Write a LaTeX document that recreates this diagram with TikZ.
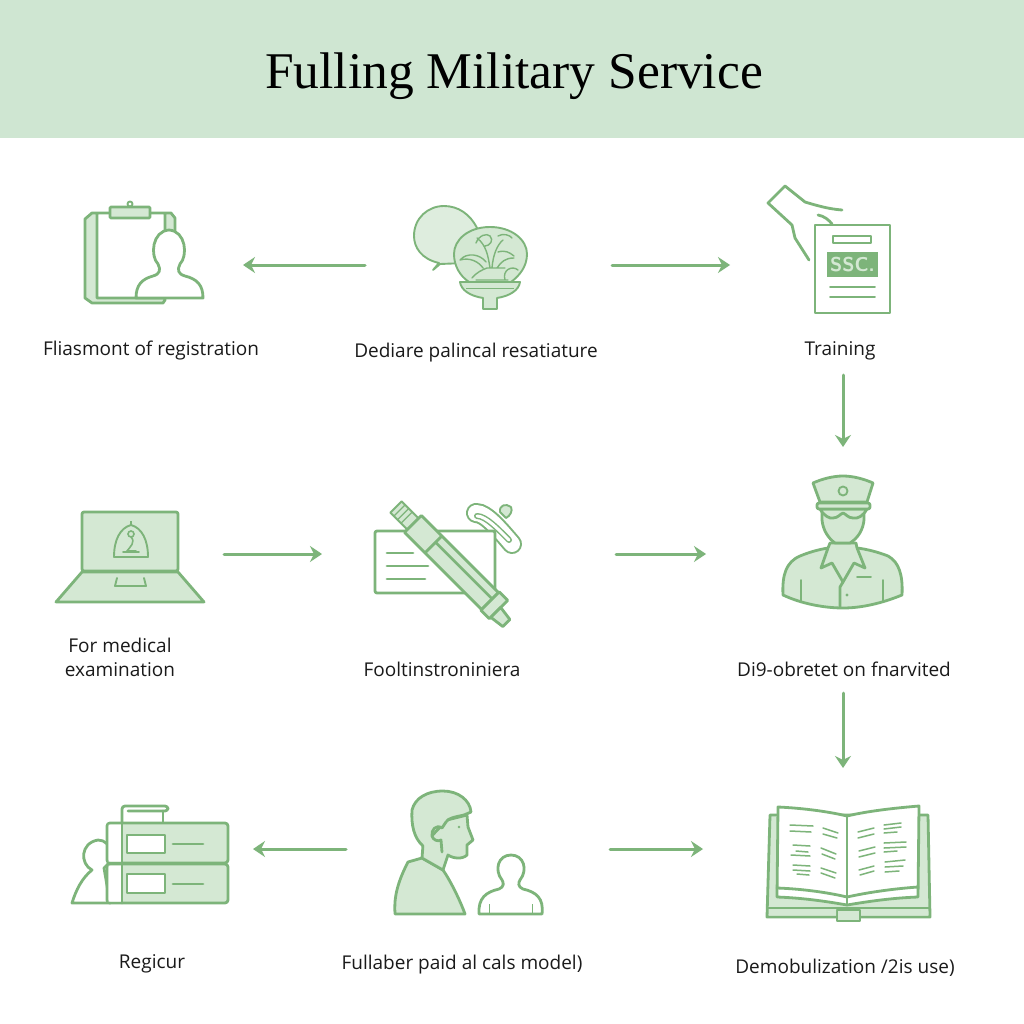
\documentclass[tikz,border=0pt]{standalone}
\usepackage{fontspec}
\setmainfont{Open Sans}
\newfontfamily\titlefont{Liberation Serif}
\usetikzlibrary{arrows.meta}
\definecolor{leaf}{HTML}{7DB47A}
\definecolor{tint}{HTML}{D4E8D3}
\definecolor{band}{HTML}{CFE6D2}
\definecolor{ink}{HTML}{1A1A1A}
\tikzset{
  ic/.style={draw=leaf,line width=2.8pt,line join=round,line cap=round},
  thin ic/.style={draw=leaf,line width=1.9pt,line join=round,line cap=round},
  tinted/.style={fill=tint},
  blank/.style={fill=white},
  slot/.style={inner sep=0pt,outer sep=0pt,rectangle},
  flow/.style={draw=leaf,line width=3pt,line cap=round,-{Stealth[length=12pt,width=16pt,inset=4pt]}},
  caption/.style={inner sep=0pt,outer sep=0pt,text=ink,font=\fontsize{19}{24}\selectfont,align=center},
}
\begin{document}
\begin{tikzpicture}[x=1pt,y=-1pt]
\useasboundingbox (0,0) rectangle (1024,1024);
\fill[white] (0,0) rectangle (1024,1024);
\fill[band] (0,0) rectangle (1024,138);
\node[inner sep=0pt,text=black,font=\titlefont\fontsize{51.5}{60}\selectfont] (title) at (514,76) {Fulling Military Service};

% Reserved areas of the icons; connectors attach to their borders
\node[slot,minimum width=163pt,minimum height=100pt] (clipboard) at (161.5,265) {};
\node[slot,minimum width=247pt,minimum height=100pt] (plant) at (488.5,265) {};
\node[slot,minimum width=170pt,minimum height=100pt] (document) at (815,265) {};
\node[slot,minimum width=188pt,minimum height=100pt] (laptop) at (130,554) {};
\node[slot,minimum width=294pt,minimum height=100pt] (pen) at (469,554) {};
\node[slot,minimum width=274pt,minimum height=214pt] (soldier) at (843,554) {};
\node[slot,minimum width=206pt,minimum height=100pt] (stack) at (150,849) {};
\node[slot,minimum width=264pt,minimum height=100pt] (people) at (478,849) {};
\node[slot,minimum width=280pt,minimum height=162pt] (book) at (843,849) {};

% Captions
\node[caption] (capA) at (151,350.5) {Fliasmont of registration};
\node[caption] (capB) at (476,352.5) {Dediare palincal resatiature};
\node[caption,minimum height=49pt] (capC) at (840,350.5) {Training};
\node[caption] (capD) at (120,657) {For medical\\examination};
\node[caption] (capE) at (442,669.5) {Fooltinstroniniera};
\node[caption,minimum height=47pt] (capF) at (844,669.5) {Di9-obretet on fnarvited};
\node[caption] (capG) at (152,963.5) {Regicur};
\node[caption] (capH) at (462,964.5) {Fullaber paid al cals model)};
\node[caption] (capI) at (845,968) {Demobulization /2is use)};

% Connectors
\draw[flow] (plant.west) -- (clipboard.east);
\draw[flow] (plant.east) -- (document.west);
\draw[flow] (capC.south -| soldier.north) -- (soldier.north);
\draw[flow] (laptop.east) -- (pen.west);
\draw[flow] (pen.east) -- (soldier.west);
\draw[flow] (capF.south -| book.north) -- (book.north);
\draw[flow] (people.west) -- (stack.east);
\draw[flow] (people.east) -- (book.west);

% Clipboard with a person
\draw[ic,tinted] (85,219) -- (92,213) -- (171,213) -- (175,218) -- (175,232) -- (165,232) -- (165,213) -- (97,213) -- (97,298) -- (165,298) -- (165,300) -- (163,303) -- (92,303) -- (85,298) -- cycle;
\draw[thin ic,blank] (130,204) circle (2.5pt);
\draw[ic,tinted,rounded corners=1pt] (110,207) rectangle (150,218);
\draw[ic,blank] (136,298) .. controls (136,285) and (142,279) .. (153,276) .. controls (160,274) and (161,270) .. (158,264) .. controls (150,256) and (152,231) .. (169,230) .. controls (186,231) and (188,256) .. (180,264) .. controls (177,270) and (178,274) .. (185,276) .. controls (197,279) and (203,285) .. (203,298) -- cycle;

% Speech bubble and plant globe on a funnel stand
\draw[thin ic,tinted,fill opacity=.75] (439,263) .. controls (421,259) and (414,247) .. (414,236) .. controls (414,218) and (428,206) .. (444,206) .. controls (458,206) and (470,214) .. (477,228) -- (490,262) -- (440,264) -- (433,270) -- cycle;
\draw[thin ic,tinted] (490,227) .. controls (512,227) and (527,240) .. (527,254) .. controls (527,267) and (519,276) .. (511,282) -- (469,282) .. controls (460,276) and (454,266) .. (454,254) .. controls (454,240) and (468,227) .. (490,227) -- cycle;
\draw[thin ic,tinted] (460,282) -- (520,282) .. controls (519,290) and (510,296) .. (497,298) -- (497,309) -- (483,309) -- (483,298) .. controls (470,296) and (461,290) .. (460,282) -- cycle;
\draw[leaf,line width=1pt] (466,288) -- (514,288);
\draw[leaf,line width=1.4pt,line cap=round] (490,268) .. controls (488,255) and (486,245) .. (477,238)
  (476,243) .. controls (479,235) and (487,233) .. (490,236) .. controls (494,240) and (490,246) .. (485,246)
  (492,268) .. controls (493,255) and (497,245) .. (503,240)
  (498,236) .. controls (503,233) and (510,235) .. (512,238)
  (483,268) .. controls (479,262) and (470,257) .. (460,260)
  (460,260) .. controls (467,252) and (480,254) .. (486,262)
  (497,268) .. controls (501,262) and (505,258) .. (514,258)
  (472,278) .. controls (477,272) and (482,270) .. (487,268) -- (505,268)
  (498,252) .. controls (505,250) and (509,252) .. (514,256)
  (476,280) -- (508,280)
  (505,280) .. controls (502,270) and (512,265) .. (518,270);

% Hand holding a document
\draw[ic] (842,210) .. controls (828,209) and (815,205) .. (805,202) -- (785,186) -- (768,203) -- (792,225) -- (795,238) -- (809,260);
\draw[ic] (818,215) .. controls (824,216) and (829,220) .. (832,224);
\draw[ic,blank] (815,225) rectangle (890,313);
\draw[thin ic] (833,236) rectangle (871,243);
\fill[leaf] (827,252) rectangle (878,277);
\node[inner sep=0pt,text=tint,font=\sffamily\bfseries\fontsize{20}{20}\selectfont] (sscmark) at (852.5,265) {SSC.};
\draw[thin ic] (830,287) -- (875,287) (830,297) -- (875,297);

% Laptop with a bell on screen
\draw[ic,tinted,rounded corners=2pt] (82,571) -- (82,512) -- (178,512) -- (178,571) -- cycle;
\draw[ic,tinted] (82,572) -- (178,572) -- (204,602) -- (56,602) -- cycle;
\draw[thin ic] (117,578) -- (115,586) -- (146,586) -- (144,578);
\draw[thin ic] (114,557) .. controls (114,540) and (120,528) .. (131,525) .. controls (142,528) and (148,540) .. (148,557) -- cycle;
\draw[leaf,line width=1.2pt] (131,525) -- (131,521);
\draw[leaf,line width=1.6pt,line cap=round] (131,534) circle (3pt) (131,537) .. controls (136,542) and (130,547) .. (127,551) -- (136,551) (123,552) -- (139,552);

% Loop behind the card, pen across it
\draw[thin ic,tinted] (500,512) .. controls (499,505) and (506,503) .. (511,507) .. controls (513,511) and (510,516) .. (506,518) -- cycle;
\draw[leaf,line width=20pt,line cap=round] (476,513) .. controls (486,513) and (500,530) .. (512,544);
\draw[white,line width=16pt,line cap=round] (476,513) .. controls (486,513) and (500,530) .. (512,544);
\draw[leaf,line width=6pt,line cap=round] (477,516) .. controls (486,516) and (499,530) .. (509,540);
\draw[white,line width=3pt,line cap=round] (477,516) .. controls (486,516) and (499,530) .. (509,540);
\draw[ic,blank,rounded corners=2pt] (375,531) rectangle (495,593);
\draw[ic] (387,553) -- (413,553) (387,566) -- (428,566) (387,579) -- (425,579);
\begin{scope}[shift={(396,507)},rotate=-45]
  \draw[thin ic,tinted] (0,-8) rectangle (24,8);
  \draw[leaf,line width=1.2pt] (5,-8) -- (5,8) (10,-8) -- (10,8) (15,-8) -- (15,8);
  \draw[ic,tinted] (24,-12) -- (133,-12) -- (133,12) -- (24,12) -- cycle;
  \draw[ic] (53,-12) -- (53,12) (53,-3) -- (133,-3);
  \draw[ic,tinted] (133,-13) rectangle (145,13);
  \draw[ic,tinted] (145,-3) -- (160,-1) -- (160,9) -- (145,11) -- cycle;
\end{scope}

% Soldier in a peaked cap
\draw[ic,tinted] (783,595) .. controls (782,575) and (786,562) .. (800,556) .. controls (812,551) and (822,549) .. (828,548) -- (830,543) -- (856,543) -- (857,548) .. controls (866,549) and (878,552) .. (888,556) .. controls (899,562) and (903,575) .. (902,595) .. controls (880,604) and (860,608) .. (843,608) .. controls (825,608) and (802,604) .. (783,595) -- cycle;
\draw[ic,tinted] (822,505) -- (822,520) .. controls (823,530) and (828,538) .. (835,543) -- (850,543) .. controls (858,538) and (863,530) .. (864,520) -- (864,505) -- cycle;
\draw[ic,tinted] (828,548) -- (821,568) -- (832,563) -- (843,582) -- (854,563) -- (865,568) -- (857,548);
\draw[ic] (843,582) -- (840,587) -- (840,607);
\draw[thin ic] (801,580) -- (801,602) (883,580) -- (883,602) (857,577) -- (871,577);
\fill[leaf] (847,595) circle (1.6pt);
\draw[ic,tinted] (820,509) .. controls (824,516) and (830,519) .. (833,518) .. controls (838,518) and (840,514) .. (843,513) .. controls (846,514) and (848,518) .. (853,518) .. controls (858,519) and (863,516) .. (867,509) -- cycle;
\draw[ic,tinted] (813,483) .. controls (822,479) and (833,476) .. (843,476) .. controls (853,476) and (864,479) .. (873,483) -- (867,502) -- (820,502) -- cycle;
\draw[ic,tinted,rounded corners=2pt] (817,503) rectangle (870,509);
\draw[thin ic,tinted] (843,491) circle (4.5pt);

% Person beside a stack of file drawers
\draw[ic,blank] (72,903) .. controls (76,890) and (82,878) .. (92,870) .. controls (80,864) and (80,843) .. (98,840) .. controls (112,840) and (115,860) .. (104,868) -- (110,903) -- cycle;
\draw[ic,tinted,rounded corners=3pt] (107,823) rectangle (228,863);
\draw[ic,tinted,rounded corners=3pt] (107,864) rectangle (228,903);
\fill[white] (108.5,824.5) rectangle (121,861.5) (108.5,865.5) rectangle (121,901.5);
\draw[ic] (122,822) -- (122,903);
\draw[ic,rounded corners=3pt] (122,822) -- (122,806) -- (168,806) -- (168,811) -- (128,811);
\draw[ic] (163,811) -- (163,822);
\draw[thin ic,blank,line width=1.2pt] (127,835) rectangle (165,853) (127,874) rectangle (165,893);
\draw[ic] (173,844) -- (203,844) (173,884) -- (203,884);

% Man in profile and a smaller figure
\draw[ic,tinted] (395,914) .. controls (394,900) and (396,885) .. (408,862) -- (422,858) -- (443,870) .. controls (450,880) and (460,900) .. (465,914) -- cycle;
\draw[ic,tinted] (423,845) -- (422,858) -- (443,870) -- (448,855) .. controls (452,858) and (462,860) .. (467,855) -- (467,845) -- (473,840) -- (468,827) -- (467,815) -- (447,820) -- cycle;
\draw[ic,tinted] (423,846) .. controls (414,838) and (411,825) .. (412,810) .. controls (415,798) and (427,791) .. (443,791) .. controls (458,791) and (470,800) .. (471,812) -- (464,815) .. controls (455,817) and (448,818) .. (446,822) -- (442,828) .. controls (436,824) and (431,830) .. (432,836) .. controls (433,840) and (438,842) .. (441,840) -- (442,852);
\fill[leaf] (459,827) circle (1.4pt);
\draw[ic,blank] (479,914) .. controls (478,898) and (486,892) .. (499,889) .. controls (504,887) and (504,883) .. (502,880) .. controls (494,870) and (498,855) .. (511,855) .. controls (524,855) and (528,870) .. (520,880) .. controls (518,883) and (518,887) .. (523,889) .. controls (536,892) and (544,898) .. (542,914) -- cycle;
\draw[leaf,line width=1pt] (489,904) -- (489,913) (532,904) -- (532,913);

% Open book
\draw[ic,tinted] (770,815) -- (928,815) -- (930,917) -- (767,917) -- cycle;
\draw[ic] (768,908) -- (929,908);
\draw[ic,tinted] (837,910) rectangle (860,921);
\fill[tint] (769,910) rectangle (836,915.5) (861,910) rectangle (928,915.5);
\draw[ic,blank] (777,897) .. controls (805,898) and (830,902) .. (847,905) .. controls (865,902) and (890,898) .. (918,897) -- (919,806) .. controls (895,808) and (868,811) .. (847,816) .. controls (826,811) and (800,808) .. (778,807) -- cycle;
\draw[ic] (847,816) -- (847,905);
\draw[ic] (777,888) .. controls (805,889) and (830,893) .. (847,897) .. controls (865,893) and (890,889) .. (918,887);
\draw[leaf,line width=1.5pt,line cap=round]
  (790,825) -- (813,826) (790,831) -- (811,832)
  (823,828) -- (838,833) (823,834) -- (837,838)
  (793,845) -- (810,846) (791,855) -- (810,856) (796,851) -- (808,852)
  (821,848) -- (836,854) (822,854) -- (835,859)
  (793,865) -- (810,866) (793,870) -- (810,871) (797,874) -- (809,875)
  (821,868) -- (836,873) (821,873) -- (835,878)
  (858,832) -- (874,828) (858,838) -- (874,834)
  (884,825) -- (901,823) (884,829) -- (901,827) (884,833) -- (897,832)
  (859,851) -- (875,847) (859,857) -- (875,853)
  (884,843) -- (906,842) (884,848) -- (906,847) (884,852) -- (897,851)
  (859,870) -- (874,866) (860,875) -- (874,871)
  (885,862) -- (905,860) (885,867) -- (903,866) (885,872) -- (899,871);
\end{tikzpicture}
\end{document}
